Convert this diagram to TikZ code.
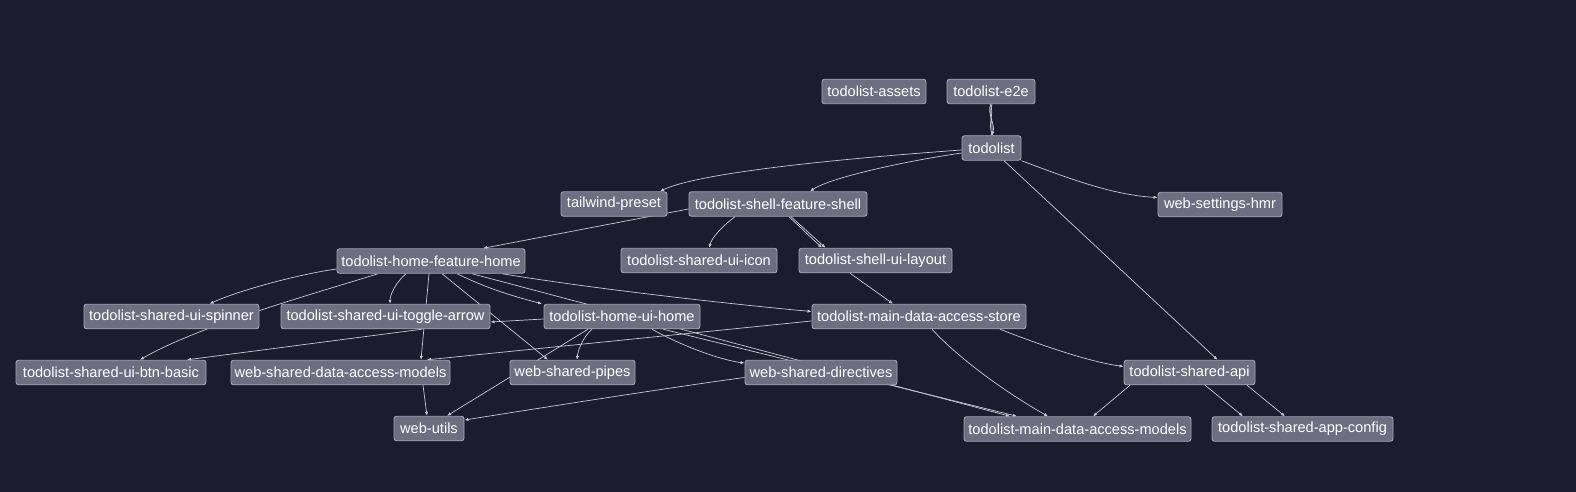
\documentclass[tikz,border=0pt]{standalone}
\usepackage{fontspec}
\setmainfont{Liberation Sans}
\usetikzlibrary{arrows.meta}
\definecolor{bgc}{HTML}{1B1D2E}
\definecolor{nodefill}{HTML}{6C6F82}
\definecolor{nodeline}{HTML}{A3A5B3}
\definecolor{edgec}{HTML}{C9CAD3}
\pgfdeclarelayer{bglayer}
\pgfdeclarelayer{edgelayer}
\pgfsetlayers{bglayer,edgelayer,main}
\begin{document}
\begin{tikzpicture}[x=1pt,y=-1pt,
  box/.style={draw=nodeline, fill=nodefill, line width=0.9pt, rounded corners=2.5pt,
    text=white, font=\fontsize{14.6}{16}\selectfont, minimum height=24.5pt,
    inner xsep=0pt, inner ysep=0pt, anchor=center},
  conn/.style={draw=edgec, line width=0.7pt, -{Latex[length=4pt,width=3.2pt]}},
  plainconn/.style={draw=edgec, line width=0.7pt}]
\begin{pgfonlayer}{bglayer}
\fill[bgc] (0,0) rectangle (1576,492);
\end{pgfonlayer}
\useasboundingbox (0,0) rectangle (1576,492);

% nodes
\node[box, minimum width=104pt] (assets) at (874,91.5) {todolist-assets};
\node[box, minimum width=88pt] (e2e) at (991,91.5) {todolist-e2e};
\node[box, minimum width=59pt] (todolist) at (991.5,148) {todolist};
\node[box, minimum width=106pt] (tailwind) at (614,204) {tailwind-preset};
\node[box, minimum width=178pt] (shellfeat) at (778,204) {todolist-shell-feature-shell};
\node[box, minimum width=124pt] (hmr) at (1220,204.5) {web-settings-hmr};
\node[box, minimum width=156pt] (icon) at (699,260.5) {todolist-shared-ui-icon};
\node[box, minimum width=153pt] (layout) at (875.5,260.5) {todolist-shell-ui-layout};
\node[box, minimum width=188pt] (homefeat) at (431,261) {todolist-home-feature-home};
\node[box, minimum width=175pt] (spinner) at (171.5,316.5) {todolist-shared-ui-spinner};
\node[box, minimum width=209pt] (toggle) at (385.5,316.5) {todolist-shared-ui-toggle-arrow};
\node[box, minimum width=156pt] (homeui) at (622,316.5) {todolist-home-ui-home};
\node[box, minimum width=214pt] (store) at (919,316.5) {todolist-main-data-access-store};
\node[box, minimum width=190pt] (btnbasic) at (111,372.5) {todolist-shared-ui-btn-basic};
\node[box, minimum width=219pt] (wsdam) at (340.5,372.5) {web-shared-data-access-models};
\node[box, minimum width=125pt] (pipes) at (572.5,372.5) {web-shared-pipes};
\node[box, minimum width=152pt] (directives) at (821,372.5) {web-shared-directives};
\node[box, minimum width=131pt] (sharedapi) at (1189.5,372.5) {todolist-shared-api};
\node[box, minimum width=70pt] (webutils) at (429,428.5) {web-utils};
\node[box, minimum width=227pt] (tdam) at (1077.5,429) {todolist-main-data-access-models};
\node[box, minimum width=181pt] (appconfig) at (1302.5,429) {todolist-shared-app-config};

% edges
\begin{pgfonlayer}{edgelayer}
\draw[conn] (e2e.south) .. controls (986,112) and (996,125) .. (todolist.north);
\draw[plainconn] ([xshift=-1pt]e2e.south) .. controls (995,113) and (987,124) .. ([xshift=1pt]todolist.north);
\draw[plainconn] ([xshift=1pt]e2e.south) .. controls (988,118) and (994,120) .. (todolist.north);

\draw[conn] ([yshift=-2pt]todolist.west) .. controls (850,158) and (700,172) .. ([xshift=46pt]tailwind.north);
\draw[conn] ([yshift=-5pt]todolist.west) .. controls (900,162) and (830,178) .. ([xshift=32pt]shellfeat.north);
\draw[conn] (todolist.south east) .. controls (1060,175) and (1110,195) .. ([yshift=7pt]hmr.west);
\draw[conn] ([xshift=12.5pt]todolist.south) -- ([xshift=28pt]sharedapi.north);

\draw[conn] ([yshift=-5pt]shellfeat.west) -- ([xshift=52pt]homefeat.north);
\draw[conn] ([xshift=-43pt]shellfeat.south) .. controls (720,228) and (712,238) .. ([xshift=10pt]icon.north);
\draw[conn] ([xshift=11pt]shellfeat.south) -- ([xshift=-53.5pt]layout.north);
\draw[conn] ([xshift=13pt]shellfeat.south) -- ([xshift=-50pt]layout.north);
\draw[conn] ([xshift=-25.5pt]layout.south) -- ([xshift=-26pt]store.north);

\draw[conn] ([yshift=-8pt]homefeat.west) .. controls (300,274) and (240,290) .. ([xshift=38pt]spinner.north);
\draw[conn] ([xshift=-53pt]homefeat.south) .. controls (320,292) and (200,325) .. ([xshift=29pt]btnbasic.north);
\draw[conn] ([xshift=-25pt]homefeat.south) .. controls (396,282) and (390,295) .. ([xshift=4.5pt]toggle.north);
\draw[conn] ([xshift=-2pt]homefeat.south) -- ([xshift=80.5pt]wsdam.north);
\draw[conn] ([xshift=11pt]homefeat.south) -- ([xshift=-24.5pt]pipes.north);
\draw[conn] ([xshift=26pt]homefeat.south) .. controls (490,290) and (520,298) .. ([xshift=-80pt]homeui.north);
\draw[conn] ([xshift=41pt]homefeat.south) -- ([xshift=-67.5pt]tdam.north);
\draw[conn] ([xshift=71pt]homefeat.south) .. controls (600,290) and (750,306) .. ([yshift=5pt]store.west);

\draw[conn] ([xshift=36.5pt]toggle.south) -- ([xshift=76pt]btnbasic.north);
\draw[conn] ([yshift=-2.5pt]homeui.west) -- ([yshift=-5.5pt]toggle.east);

\draw[conn] ([yshift=-4.5pt]store.west) -- ([xshift=86.5pt]wsdam.north);
\draw[conn] ([xshift=81pt]store.south) .. controls (1040,345) and (1090,362) .. ([yshift=6pt]sharedapi.west);
\draw[conn] ([xshift=13pt]store.south) .. controls (960,360) and (1010,395) .. ([xshift=-29.5pt]tdam.north);

\draw[conn] ([xshift=-30pt]homeui.south) .. controls (583,337) and (578,350) .. ([xshift=4.5pt]pipes.north);
\draw[conn] ([xshift=-34pt]homeui.south) -- ([xshift=18pt]webutils.north);
\draw[conn] ([xshift=30pt]homeui.south) .. controls (680,345) and (720,360) .. ([yshift=9.5pt]directives.west);
\draw[conn] ([xshift=41pt]homeui.south) -- ([xshift=-60.5pt]tdam.north);

\draw[conn] ([yshift=-5pt]directives.west) .. controls (680,386) and (540,408) .. ([yshift=8.5pt]webutils.east);

\draw[conn] ([xshift=82.5pt]wsdam.south) -- ([xshift=-2pt]webutils.north);

\draw[conn] ([xshift=-59.5pt]sharedapi.south) -- ([xshift=15.5pt]tdam.north);
\draw[conn] ([xshift=15.5pt]sharedapi.south) -- ([xshift=-59.5pt]appconfig.north);
\draw[conn] ([xshift=57.5pt]sharedapi.south) -- ([xshift=-17.5pt]appconfig.north);
\end{pgfonlayer}
\end{tikzpicture}
\end{document}
